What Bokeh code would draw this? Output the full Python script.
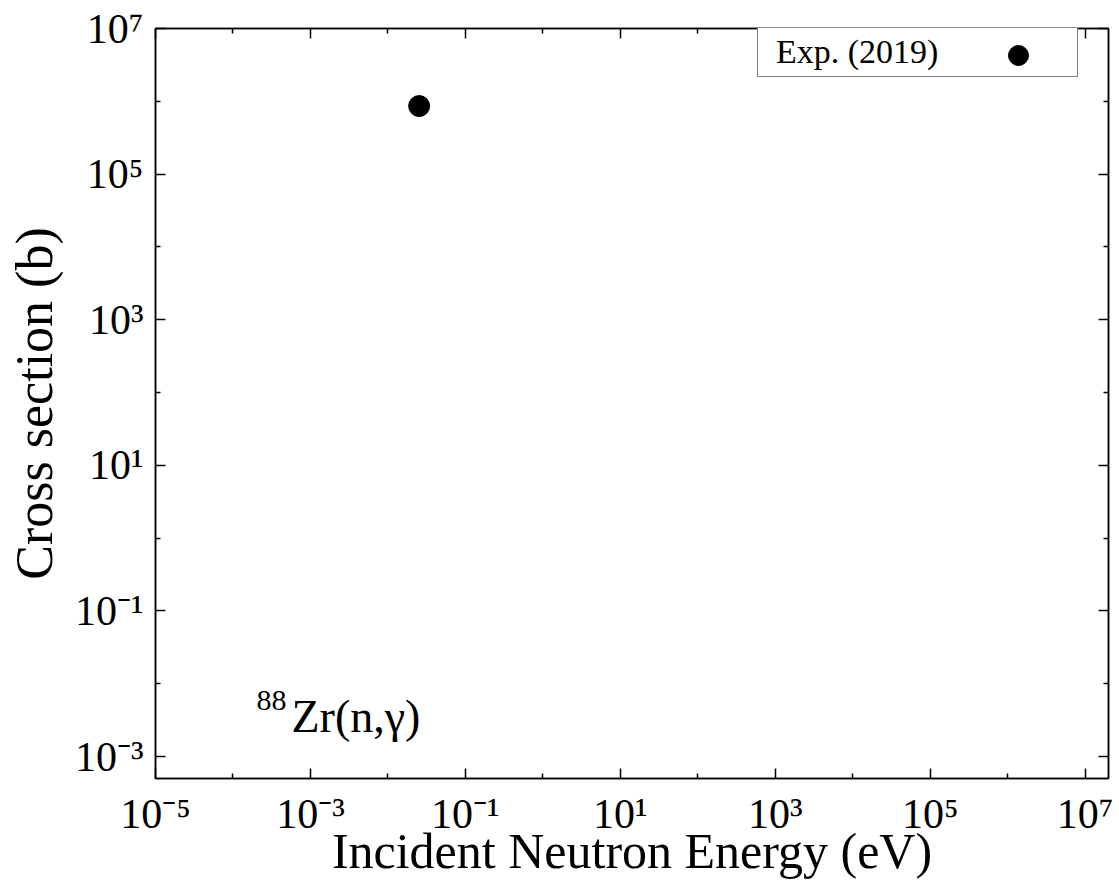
from bokeh.plotting import figure
from bokeh.models import (FixedTicker, CustomJSTickFormatter, LogAxis, Label,
                          Legend, LegendItem, Range1d)
from bokeh.embed import file_html
from bokeh.resources import INLINE

# ---- data ----
energy_eV = [0.0253]
cross_section_b = [8.61e5]
series_label = "Exp. (2019)"
reaction_mass = "88"
reaction_text = "Zr(n,γ)"

x_major = [1e-5, 1e-3, 1e-1, 1e1, 1e3, 1e5, 1e7]
x_major_labels = ["10⁻⁵", "10⁻³", "10⁻¹", "10¹", "10³", "10⁵", "10⁷"]
x_minor = [1e-4, 1e-2, 1e0, 1e2, 1e4, 1e6]
y_major = [1e-3, 1e-1, 1e1, 1e3, 1e5, 1e7]
y_major_labels = ["10⁻³", "10⁻¹", "10¹", "10³", "10⁵", "10⁷"]
y_minor = [1e-2, 1e0, 1e2, 1e4, 1e6]
x_limits = (1e-5, 2e7)
y_limits = (5e-4, 1e7)

FONT = "Liberation Serif"

p = figure(width=1119, height=882, x_axis_type="log", y_axis_type="log",
           x_range=Range1d(*x_limits), y_range=Range1d(*y_limits),
           output_backend="svg", toolbar_location=None,
           min_border_left=155, min_border_right=11,
           min_border_top=28, min_border_bottom=104)
p.xgrid.visible = False
p.ygrid.visible = False
p.outline_line_color = "black"
p.outline_line_width = 1.5
p.background_fill_color = "white"
p.border_fill_color = "white"

fmt_code = """
const L = Math.log10(tick);
for (let i = 0; i < tv.length; i++) {
  if (Math.abs(Math.log10(tv[i]) - L) < 1e-6) { return tl[i]; }
}
return "";
"""
x_fmt = CustomJSTickFormatter(args=dict(tv=x_major, tl=x_major_labels), code=fmt_code)
y_fmt = CustomJSTickFormatter(args=dict(tv=y_major, tl=y_major_labels), code=fmt_code)
blank_fmt = CustomJSTickFormatter(code="return '';")

x_ticker = FixedTicker(ticks=x_major, minor_ticks=x_minor)
y_ticker = FixedTicker(ticks=y_major, minor_ticks=y_minor)


def style_axis(ax):
    ax.axis_line_color = "black"
    ax.axis_line_width = 1.5
    ax.major_tick_in = 10
    ax.major_tick_out = 0
    ax.minor_tick_in = 5
    ax.minor_tick_out = 0
    ax.major_tick_line_width = 1.5
    ax.minor_tick_line_width = 1.5
    ax.major_tick_line_color = "black"
    ax.minor_tick_line_color = "black"
    ax.major_label_text_font = FONT
    ax.major_label_text_font_size = "42px"
    ax.major_label_text_color = "black"
    ax.axis_label_text_font = FONT
    ax.axis_label_text_font_style = "normal"
    ax.axis_label_text_color = "black"


xa = p.xaxis[0]
xa.ticker = x_ticker
xa.formatter = x_fmt
xa.axis_label = "Incident Neutron Energy (eV)"
style_axis(xa)
xa.axis_label_text_font_size = "50px"
xa.major_label_standoff = 12
xa.axis_label_standoff = -17

ya = p.yaxis[0]
ya.ticker = y_ticker
ya.formatter = y_fmt
ya.axis_label = "Cross section (b)"
style_axis(ya)
ya.axis_label_text_font_size = "52px"
ya.major_label_standoff = 12
ya.axis_label_standoff = 9

top_ax = LogAxis(ticker=x_ticker, formatter=blank_fmt, major_label_standoff=0)
style_axis(top_ax)
right_ax = LogAxis(ticker=y_ticker, formatter=blank_fmt, major_label_standoff=0)
style_axis(right_ax)
p.add_layout(top_ax, "above")
p.add_layout(right_ax, "right")

# data
pts = p.scatter(energy_eV, cross_section_b, size=21, marker="circle",
                fill_color="black", line_color="black")
ghost = p.scatter(x=[], y=[], size=0, fill_alpha=0, line_alpha=0)

# annotation
p.add_layout(Label(x=131, y=78, x_units="screen", y_units="screen",
                   text=reaction_mass, text_align="right",
                   text_baseline="alphabetic", text_font=FONT,
                   text_font_size="30px", text_color="black"))
p.add_layout(Label(x=136, y=62, x_units="screen", y_units="screen",
                   text=reaction_text, text_align="left",
                   text_baseline="alphabetic", text_font=FONT,
                   text_font_size="46px", text_color="black"))

# legend: text box, then marker on the right
leg_box = Legend(items=[LegendItem(label=series_label, renderers=[ghost])],
                 location=(602, 701), margin=0, padding=5,
                 glyph_width=0, glyph_height=25, label_standoff=13,
                 label_width=296, label_height=25,
                 label_text_font=FONT, label_text_font_size="34px",
                 label_text_color="black",
                 border_line_color="black", border_line_width=1.5,
                 background_fill_color="white", background_fill_alpha=1)
leg_dot = Legend(items=[LegendItem(label=" ", renderers=[pts])],
                 location=(838, 698), margin=0, padding=0,
                 glyph_width=50, glyph_height=50, label_standoff=0,
                 label_width=0, label_height=0,
                 label_text_font_size="1px",
                 border_line_alpha=0, background_fill_alpha=0)
p.add_layout(leg_box, "center")
p.add_layout(leg_dot, "center")

open("out.html", "w").write(file_html(p, INLINE))
